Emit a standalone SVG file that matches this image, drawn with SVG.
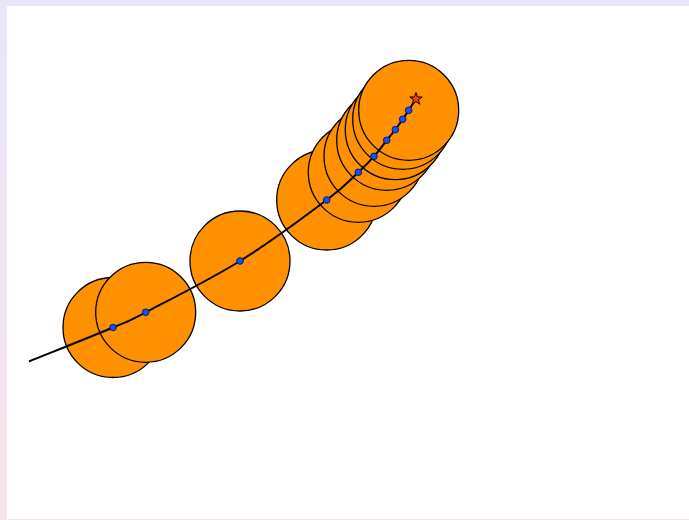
<svg xmlns="http://www.w3.org/2000/svg" width="689" height="520" viewBox="0 0 689 520">
<defs>
<linearGradient id="bg" x1="0" y1="0" x2="0" y2="1">
<stop offset="0" stop-color="#e8e6fb"/>
<stop offset="1" stop-color="#f8e2ea"/>
</linearGradient>
<style>
.c{fill:#ff9100;stroke:#000;stroke-width:1.3}
.d{fill:#1450ff;stroke:#0a1a66;stroke-width:1}
.p{fill:none;stroke:#000;stroke-width:2}
</style>
</defs>
<rect x="0" y="0" width="689" height="520" fill="url(#bg)"/>
<rect x="7" y="6" width="682" height="513" fill="#fff"/>
<g id="circles">
<circle class="c" cx="113" cy="327.5" r="50"/>
<circle class="c" cx="145.7" cy="312.3" r="50"/>
<circle class="c" cx="240" cy="261" r="50"/>
<circle class="c" cx="326.7" cy="200" r="50"/>
<circle class="c" cx="358.3" cy="172.3" r="50"/>
<circle class="c" cx="374" cy="156.3" r="50"/>
<circle class="c" cx="386.7" cy="140.3" r="50"/>
<circle class="c" cx="395.3" cy="129.7" r="50"/>
<circle class="c" cx="402.7" cy="119.3" r="50"/>
<circle class="c" cx="408.7" cy="110.3" r="50"/>
</g>
<g id="connectors">
<path class="p" d="M29,361.5 C43,355.8 93.55,335.7 113,327.5 C132.45,319.3 124.5,323.4 145.7,312.3 C166.9,301.2 209.8,279.7 240,261 C270.2,242.3 307,214.8 326.7,200 C346.4,185.2 350.4,179.6 358.3,172.3 C366.2,165 369.3,161.6 374,156.3 C378.7,151 383.15,144.7 386.7,140.3 C390.25,135.9 392.6,133.2 395.3,129.7 C398,126.2 400.5,122.5 402.7,119.3 C404.9,116.1 406.5,113.7 408.7,110.3 C410.9,106.9 414.8,100.9 416,99"/>
</g>
<g id="dots">
<circle class="d" cx="113" cy="327.5" r="3.3"/>
<circle class="d" cx="145.7" cy="312.3" r="3.3"/>
<circle class="d" cx="240" cy="261" r="3.3"/>
<circle class="d" cx="326.7" cy="200" r="3.3"/>
<circle class="d" cx="358.3" cy="172.3" r="3.3"/>
<circle class="d" cx="374" cy="156.3" r="3.3"/>
<circle class="d" cx="386.7" cy="140.3" r="3.3"/>
<circle class="d" cx="395.3" cy="129.7" r="3.3"/>
<circle class="d" cx="402.7" cy="119.3" r="3.3"/>
<circle class="d" cx="408.7" cy="110.3" r="3.3"/>
</g>
<g id="star">
<polygon points="416,92.5 417.53,96.9 422.18,96.99 418.47,99.8 419.82,104.26 416,101.6 412.18,104.26 413.53,99.8 409.82,96.99 414.47,96.9" fill="#ff3a0a" stroke="#000" stroke-width="1"/>
</g>
</svg>
